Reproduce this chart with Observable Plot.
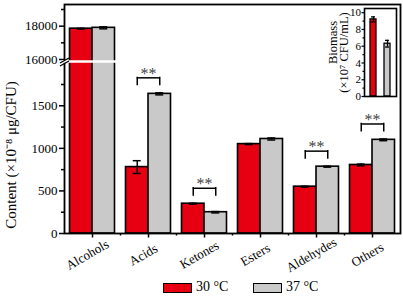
<!DOCTYPE html>
<html><head><meta charset="utf-8">
<script src="https://cdn.jsdelivr.net/npm/d3@7"></script>
<script src="https://cdn.jsdelivr.net/npm/@observablehq/plot@0.6"></script>
<style>
body{margin:0;background:#fff;}
#wrap{position:relative;width:403px;height:298px;font-family:"Liberation Serif",serif;color:#000;}
#wrap svg text{font-family:"Liberation Serif",serif !important;}
#main{position:absolute;left:0;top:0;}
#inset{position:absolute;left:280px;top:0;width:120px;}
#legend{position:absolute;left:0;top:278px;width:403px;height:20px;font-size:14px;font-family:"Liberation Serif",serif;}
.sw{position:absolute;top:5px;width:27px;height:8px;border:1.6px solid #000;}
.lt{position:absolute;top:1px;line-height:16px;}
</style></head><body>
<div id="wrap"><div id="main"></div><div id="inset"></div><div id="legend"></div></div>
<script>
// ---- data ----
const categories = ["Alcohols", "Acids", "Ketones", "Esters", "Aldehydes", "Others"];
const content30 = [17850, 780, 350, 1050, 550, 805];
const content37 = [17900, 1640, 250, 1110, 785, 1100];
const error30 = [20, 75, 5, 6, 5, 10];
const error37 = [60, 12, 8, 12, 6, 10];
const significance = ["", "**", "**", "", "**", "**"];
const tempLabels = ["30 °C", "37 °C"];
const biomass = [9.2, 6.3];
const biomassError = [0.3, 0.4];
const yMajorTicks = [0, 500, 1000, 1500, 16000, 18000];
const yMinorTicks = [250, 750, 1250, 1750, 17000, 19000];
const yDomain = [0, 2020, 15880, 19300];
const biomassTicks = [0, 2, 4, 6, 8, 10];
const biomassMinor = [1, 3, 5, 7, 9];

// ---- styles / layout ----
const FONT = "Liberation Serif";
const RED = "#e60012", GREY = "#c9c9c9";
const W = 403, H = 278, mL = 64, mR = 3, mT = 4, mB = 45;
const breakPx = 61;
const bw = (W - mL - mR) / categories.length;
const barW = 22.5, gp = (bw - 2 * barW) / 2, capW = 8;

const rows = categories.map((c, i) => ({
  cat: c, v30: content30[i], e30: error30[i], v37: content37[i], e37: error37[i], sig: significance[i],
  top: Math.max(content30[i] + error30[i], content37[i] + error37[i])
}));
const sigRows = rows.filter(d => d.sig);

const slashes = {draw(ctx, size) {
  ctx.moveTo(-4.5, 1.5); ctx.lineTo(4.5, -3.5);
  ctx.moveTo(-4.5, 4.5); ctx.lineTo(4.5, -0.5);
}};

const errMarks = (v, e, dx) => [
  Plot.ruleX(rows, {x: "cat", y1: d => d[v] - d[e], y2: d => d[v] + d[e], dx, strokeWidth: 1.5}),
  Plot.tickY(rows, {x: "cat", y: d => d[v] + d[e], dx, insetLeft: (bw - capW) / 2, insetRight: (bw - capW) / 2, strokeWidth: 1.5}),
  Plot.tickY(rows, {x: "cat", y: d => d[v] - d[e], dx, insetLeft: (bw - capW) / 2, insetRight: (bw - capW) / 2, strokeWidth: 1.5})
];

const main = Plot.plot({
  width: W, height: H, marginLeft: mL, marginRight: mR, marginTop: mT, marginBottom: mB,
  style: {fontFamily: FONT, fontSize: "13px", background: "transparent", color: "#000"},
  x: {type: "band", domain: categories, padding: 0, axis: null},
  y: {type: "linear", domain: yDomain, range: [H - mB, breakPx, breakPx, mT], axis: null, label: null},
  marks: [
    Plot.barY(rows, {x: "cat", y: "v30", fill: RED, stroke: "#000", strokeWidth: 1.6, insetLeft: gp, insetRight: bw - gp - barW}),
    Plot.barY(rows, {x: "cat", y: "v37", fill: GREY, stroke: "#000", strokeWidth: 1.6, insetLeft: bw - gp - barW, insetRight: gp}),
    ...errMarks("v30", "e30", -barW / 2),
    ...errMarks("v37", "e37", barW / 2),
    // significance brackets
    Plot.tickY(sigRows, {x: "cat", y: "top", dy: -15, insetLeft: gp + barW / 2, insetRight: gp + barW / 2, strokeWidth: 1.5}),
    Plot.ruleX(sigRows, {x: "cat", y1: "top", y2: "top", dx: -barW / 2, insetTop: -15.7, insetBottom: 7, strokeWidth: 1.5}),
    Plot.ruleX(sigRows, {x: "cat", y1: "top", y2: "top", dx: barW / 2, insetTop: -15.7, insetBottom: 7, strokeWidth: 1.5}),
    Plot.text(sigRows, {x: "cat", y: "top", text: "sig", dy: -14, lineAnchor: "bottom", fontSize: 16, fontFamily: FONT, fill: "#444"}),
    // axes
    Plot.axisY({ticks: yMajorTicks, tickSize: 5, tickPadding: 2, strokeWidth: 1.5, tickFormat: d => String(d), label: null, fontFamily: FONT, fontSize: 13}),
    Plot.axisY({ticks: yMinorTicks, tickSize: 3, strokeWidth: 1.5, tickFormat: () => "", label: null}),
    Plot.frame({strokeWidth: 1.8}),
    Plot.ruleX(categories, {x: d => d, insetTop: H - mT - mB, insetBottom: -4.5, strokeWidth: 1.5}),
    Plot.ruleX(categories.slice(1), {x: d => d, dx: -bw / 2, insetTop: H - mT - mB, insetBottom: -2.5, strokeWidth: 1.5}),
    // axis break
    Plot.ruleY([yDomain[1]], {x1: () => categories[0], x2: () => categories[0], stroke: "white", strokeWidth: 2.5, insetLeft: -2, insetRight: 4}),
    Plot.dot([yDomain[1]], {y: d => d, frameAnchor: "left", symbol: slashes, r: 5, stroke: "#000", fill: "none", strokeWidth: 1.3}),
    // labels
    Plot.text(categories, {x: d => d, frameAnchor: "bottom", dy: 25, dx: -3, rotate: -30, fontSize: 13, fontFamily: FONT}),
    Plot.text(["Content (×10⁻⁸ μg/CFU)"], {frameAnchor: "left", textAnchor: "middle", lineAnchor: "middle", dx: -53, dy: 36, rotate: -90, fontSize: 15, fontFamily: FONT})
  ]
});
document.getElementById("main").append(main);

// ---- inset ----
const bioRows = tempLabels.map((t, i) => ({t, v: biomass[i], e: biomassError[i]}));
const inset = Plot.plot({
  width: 120, height: 112, marginLeft: 84, marginRight: 4, marginTop: 8, marginBottom: 16,
  style: {fontFamily: FONT, fontSize: "11px", background: "transparent", color: "#000"},
  x: {type: "band", domain: tempLabels, paddingInner: 0.54, paddingOuter: 0.36, axis: null},
  y: {domain: [0, 10.5], axis: null, label: null},
  marks: [
    Plot.barY(bioRows, {x: "t", y: "v", fill: d => d.t === tempLabels[0] ? RED : GREY, stroke: "#000", strokeWidth: 1.3}),
    Plot.ruleX(bioRows, {x: "t", y1: d => d.v - d.e, y2: d => d.v + d.e, strokeWidth: 1.3}),
    Plot.tickY(bioRows, {x: "t", y: d => d.v + d.e, strokeWidth: 1.3, insetLeft: 1, insetRight: 1}),
    Plot.tickY(bioRows, {x: "t", y: d => d.v - d.e, strokeWidth: 1.3, insetLeft: 1, insetRight: 1}),
    Plot.axisY({ticks: biomassTicks, tickSize: 2.5, tickPadding: 1, strokeWidth: 1.2, label: null, fontFamily: FONT, fontSize: 11}),
    Plot.axisY({ticks: biomassMinor, tickSize: 1.5, strokeWidth: 1.2, tickFormat: () => "", label: null}),
    Plot.frame({strokeWidth: 1.6}),
    Plot.text(["Biomass"], {frameAnchor: "left", textAnchor: "middle", dx: -32, dy: -10, rotate: -90, fontSize: 12.5, lineAnchor: "middle", fontFamily: FONT}),
    Plot.text(["(×10⁷ CFU/mL)"], {frameAnchor: "left", textAnchor: "middle", dx: -21, dy: 0, rotate: -90, fontSize: 12.5, lineAnchor: "middle", fontFamily: FONT})
  ]
});
document.getElementById("inset").append(inset);

// ---- legend ----
const legend = document.getElementById("legend");
const legendPos = [163, 253];
tempLabels.forEach((t, i) => {
  const sw = document.createElement("div");
  sw.className = "sw";
  sw.style.left = legendPos[i] + "px";
  sw.style.background = i === 0 ? RED : GREY;
  const lt = document.createElement("div");
  lt.className = "lt";
  lt.style.left = (legendPos[i] + 33) + "px";
  lt.textContent = t;
  legend.append(sw, lt);
});
</script>
</body></html>
